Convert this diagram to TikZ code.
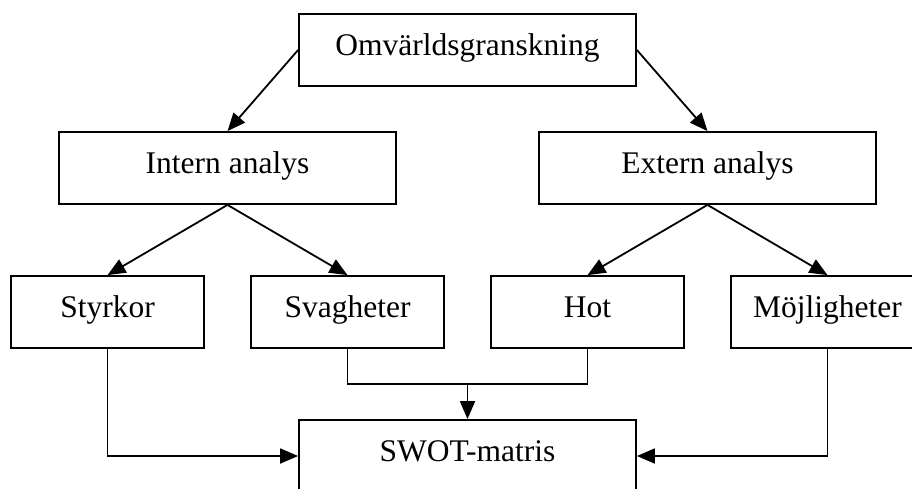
\documentclass[tikz,border=0pt]{standalone}
\usepackage{fontspec}
\setmainfont{Liberation Serif}
\usepackage{tikz}
\usetikzlibrary{arrows.meta,positioning}
\tikzstyle{box} = [draw, rectangle, inner sep=0pt, minimum height=72pt, text height=20pt, text depth=10pt, font=\fontsize{31.5}{36}\selectfont]
\tikzstyle{wide} = [box, minimum width=337pt]
\tikzstyle{small} = [box, minimum width=193pt]

\begin{document}
\begin{tikzpicture}[x=1pt, y=-1pt, line width=1.8pt, >={Triangle[length=18pt,width=15pt]}]
        \useasboundingbox (0,0) rectangle (912,488);
        \node[wide] (omv) at (467.5,50) {Omvärldsgranskning};
        \node[wide] (intern) at (227.5,168) {Intern analys};
        \node[wide] (extern) at (707.5,168) {Extern analys};
        
        \node[small] (styrkor) at (107.5,312) {Styrkor};
        \node[small] (svag) at (347.5,312) {Svagheter};
        \node[small] (hot) at (587.5,312) {Hot};
        \node[small] (moj) at (827.5,312) {Möjligheter};
        
        \node[wide] (swot) at (467.5,456) {SWOT-matris};
        \coordinate (join) at (467.5,384);
        
        \draw[->] (omv.west) -- (intern.north);
        \draw[->] (omv.east) -- (extern.north);
        
        \draw[->] (intern.south) -- (styrkor.north);
        \draw[->] (intern.south) -- (svag.north);
        \draw[->] (extern.south) -- (hot.north);
        \draw[->] (extern.south) -- (moj.north);
        
        \draw (svag.south) |- (join) -| (hot.south);
        \draw[->] (join) -- (swot.north);
        \draw[->] (styrkor.south) |- (swot.west);
        \draw[->] (moj.south) |- (swot.east);
    \end{tikzpicture}
\end{document}
